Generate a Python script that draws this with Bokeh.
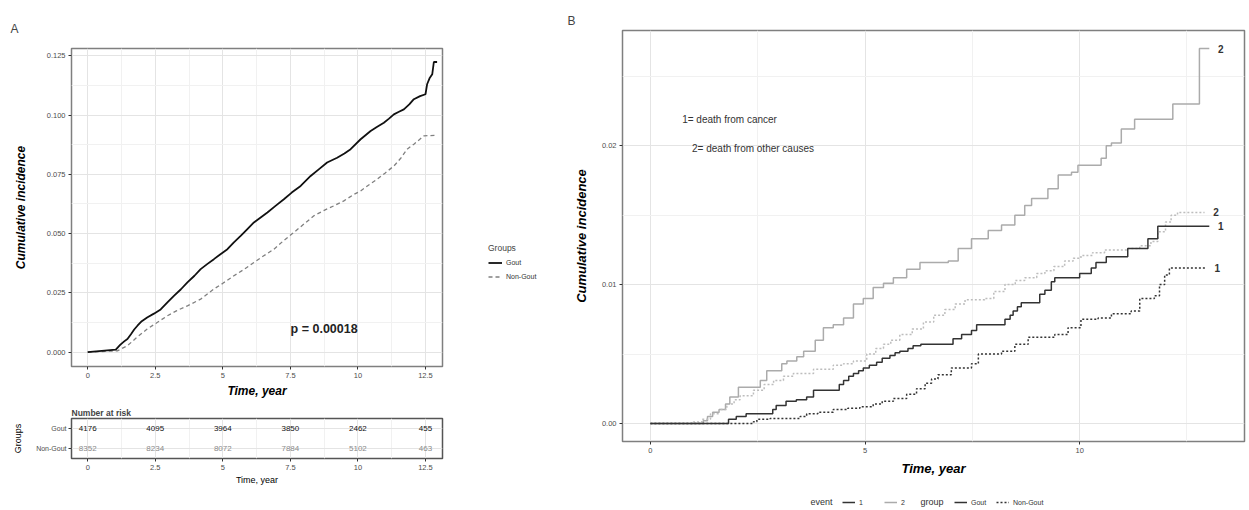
from bokeh.plotting import figure
from bokeh.models import (Range1d, FixedTicker, NumeralTickFormatter, PrintfTickFormatter,
                          Label, Legend, LegendItem, FactorRange)
from bokeh.layouts import row, column
from bokeh.embed import file_html
from bokeh.resources import INLINE
from bokeh.core.properties import value

FONT = "Liberation Sans"

# ---------------- Panel A data ----------------
a_gout_t = [0, 1.04, 1.2, 1.35, 1.47, 1.6, 1.72, 1.84, 2.0, 2.2, 2.45, 2.7, 2.95, 3.19, 3.45, 3.69,
            3.95, 4.18, 4.42, 4.67, 4.9, 5.17, 5.4, 5.66, 5.9, 6.15, 6.4, 6.65, 6.95, 7.26, 7.55,
            7.88, 8.25, 8.55, 8.86, 9.23, 9.5, 9.73, 10.1, 10.47, 10.7, 10.96, 11.15, 11.33, 11.5,
            11.7, 11.9, 12.07, 12.3, 12.5, 12.56, 12.65, 12.75, 12.81, 12.93]
a_gout_v = [0, 0.001, 0.003, 0.0045, 0.0055, 0.0075, 0.0095, 0.0111, 0.013, 0.0146, 0.0162, 0.018,
            0.021, 0.0237, 0.0265, 0.0294, 0.0322, 0.035, 0.0371, 0.0392, 0.0412, 0.0434, 0.0462,
            0.049, 0.0518, 0.0547, 0.0568, 0.0589, 0.0617, 0.0645, 0.0673, 0.0701, 0.0743, 0.0771,
            0.08, 0.082, 0.0838, 0.0856, 0.0898, 0.0933, 0.095, 0.0968, 0.0985, 0.1003, 0.1013,
            0.1024, 0.1045, 0.1067, 0.108, 0.1088, 0.113, 0.1155, 0.1172, 0.1224, 0.1224]
a_non_t = [0, 1.1, 1.47, 1.8, 2.2, 2.6, 2.95, 3.3, 3.69, 4.18, 4.67, 5.0, 5.41, 5.8, 6.15, 6.5,
           6.89, 7.25, 7.63, 8.0, 8.37, 8.75, 9.11, 9.48, 9.85, 10.1, 10.4, 10.71, 11.0, 11.33,
           11.6, 11.82, 12.07, 12.44, 12.87]
a_non_v = [0, 0.0005, 0.0027, 0.006, 0.0097, 0.0127, 0.0153, 0.0175, 0.0195, 0.0223, 0.0266,
           0.029, 0.0322, 0.035, 0.0378, 0.0405, 0.0434, 0.047, 0.0505, 0.054, 0.0575, 0.0598,
           0.0617, 0.0638, 0.0665, 0.068, 0.0705, 0.0729, 0.0755, 0.0785, 0.082, 0.0856, 0.0877,
           0.0912, 0.0915]

risk_times = [0, 2.5, 5, 7.5, 10, 12.5]
risk_gout = [4176, 4095, 3964, 3850, 2462, 455]
risk_non = [8352, 8234, 8072, 7884, 5102, 463]
groups = ["Non-Gout", "Gout"]

a_xticks = [0, 2.5, 5, 7.5, 10, 12.5]
a_xminor = [1.25, 3.75, 6.25, 8.75, 11.25]
a_yticks = [0, 0.025, 0.05, 0.075, 0.1, 0.125]
a_yminor = [0.0125, 0.0375, 0.0625, 0.0875, 0.1125]

# ---------------- Panel B data ----------------
b_g2_t = [0, 1.23, 1.33, 1.45, 1.6, 1.75, 1.85, 2.05, 2.56, 2.71, 3.06, 3.18, 3.41, 3.57, 3.84,
          4.03, 4.26, 4.5, 4.73, 4.96, 5.19, 5.43, 5.66, 5.97, 6.28, 6.94, 7.17, 7.48, 7.87, 8.18,
          8.49, 8.72, 8.88, 9.26, 9.5, 9.81, 9.96, 10.5, 10.62, 10.74, 10.97, 11.28, 12.17, 12.79,
          13.02]
b_g2_v = [0, 0.0002, 0.0005, 0.0008, 0.001, 0.0014, 0.0019, 0.0026, 0.0031, 0.0038, 0.0043,
          0.0045, 0.0048, 0.0052, 0.006, 0.0069, 0.0071, 0.0076, 0.0086, 0.009, 0.0098, 0.0101,
          0.0105, 0.0111, 0.0116, 0.0117, 0.0126, 0.0133, 0.0139, 0.0143, 0.015, 0.0157, 0.0162,
          0.0169, 0.0179, 0.0181, 0.0186, 0.0191, 0.02, 0.0202, 0.0212, 0.0219, 0.023, 0.027,
          0.027]
b_n2_t = [0, 1.0, 1.2, 1.4, 1.6, 1.78, 1.95, 2.09, 2.4, 2.65, 2.87, 3.1, 3.33, 3.8, 4.26, 4.5,
          4.73, 5.04, 5.25, 5.43, 5.6, 5.81, 6.1, 6.36, 6.6, 6.86, 7.1, 7.33, 7.79, 8.0, 8.26, 8.5,
          8.72, 9.0, 9.19, 9.4, 9.65, 9.85, 10.03, 10.3, 10.58, 11.12, 11.4, 11.66, 11.82, 12.0,
          12.13, 12.28, 12.91]
b_n2_v = [0, 0.0001, 0.0003, 0.0007, 0.001, 0.0014, 0.0017, 0.002, 0.0024, 0.0028, 0.0031,
          0.0034, 0.0036, 0.0039, 0.0042, 0.0043, 0.0045, 0.005, 0.0054, 0.0057, 0.006, 0.0064,
          0.0068, 0.0073, 0.0078, 0.0082, 0.0086, 0.0089, 0.009, 0.0095, 0.01, 0.0103, 0.0105,
          0.0108, 0.011, 0.0113, 0.0117, 0.0119, 0.0121, 0.0123, 0.0125, 0.0126, 0.0128, 0.0131,
          0.0138, 0.0145, 0.015, 0.0152, 0.0152]
b_g1_t = [0, 1.82, 2.0, 2.23, 2.85, 2.93, 3.16, 3.4, 3.64, 3.8, 4.4, 4.5, 4.62, 4.73, 4.85, 4.96,
          5.1, 5.27, 5.4, 5.58, 5.7, 5.81, 6.0, 6.12, 6.3, 7.05, 7.25, 7.48, 7.6, 8.26, 8.38, 8.45,
          8.55, 8.64, 9.07, 9.19, 9.34, 9.42, 10.0, 10.27, 10.38, 10.62, 11.12, 11.59, 11.82, 13.02]
b_g1_v = [0, 0.0003, 0.0005, 0.0007, 0.001, 0.0013, 0.0016, 0.0017, 0.0019, 0.0024, 0.0028,
          0.0031, 0.0034, 0.0036, 0.0038, 0.004, 0.0042, 0.0044, 0.0047, 0.0049, 0.0051, 0.0052,
          0.0054, 0.0056, 0.0057, 0.0061, 0.0064, 0.0067, 0.0071, 0.0075, 0.0078, 0.0081, 0.0084,
          0.0087, 0.0093, 0.0096, 0.0102, 0.0105, 0.0108, 0.0112, 0.0116, 0.012, 0.0126, 0.0133,
          0.0142, 0.0142]
b_n1_t = [0, 2.4, 2.48, 2.79, 3.49, 3.64, 3.9, 4.26, 4.6, 4.88, 5.19, 5.4, 5.66, 5.97, 6.2, 6.4,
          6.55, 6.7, 7.01, 7.48, 7.64, 8.18, 8.49, 8.8, 9.42, 9.73, 10.03, 10.43, 10.74, 11.2,
          11.4, 11.74, 11.86, 11.98, 12.09, 12.94]
b_n1_v = [0, 0.00012, 0.0003, 0.00036, 0.0005, 0.0007, 0.0008, 0.001, 0.0011, 0.0012, 0.0014,
          0.0016, 0.0018, 0.0021, 0.0025, 0.0029, 0.0032, 0.0035, 0.004, 0.0043, 0.005, 0.0052,
          0.0057, 0.0062, 0.0064, 0.0069, 0.0075, 0.0076, 0.0079, 0.0081, 0.009, 0.0092, 0.01,
          0.0107, 0.0112, 0.0112]

b_xticks = [0, 5, 10]
b_xminor = [2.5, 7.5, 12.5]
b_yticks = [0, 0.01, 0.02]
b_yminor = [0.005, 0.015, 0.025]

DARK = "#333333"
LIGHT = "#ababab"


def style(p, label_size="12px", label_style="bold italic"):
    p.outline_line_color = "#7f7f7f"
    p.outline_line_width = 1.5
    p.background_fill_color = "white"
    p.border_fill_color = "white"
    for ax in p.axis:
        ax.axis_line_color = None
        ax.major_tick_line_color = "#333333"
        ax.major_tick_out = 3
        ax.major_tick_in = 0
        ax.minor_tick_line_color = None
        ax.major_label_text_font = FONT
        ax.major_label_text_color = "#4d4d4d"
        ax.major_label_text_font_size = "7.5px"
        ax.major_label_standoff = 2
        ax.axis_label_text_font = FONT
        ax.axis_label_text_font_style = label_style
        ax.axis_label_text_font_size = label_size
        ax.axis_label_text_color = "black"
    for g in p.grid:
        g.grid_line_color = "#e4e4e4"
        g.grid_line_width = 1
        g.minor_grid_line_color = "#f1f1f1"
        g.minor_grid_line_width = 1


def set_title(p, text, offset, size="12px", style_="normal", standoff=10):
    p.title.text = text
    p.title.align = "left"
    p.title.offset = offset
    p.title.text_font = FONT
    p.title.text_font_size = size
    p.title.text_font_style = style_
    p.title.standoff = standoff


def blank(width, height, xr, yr, **borders):
    f = figure(width=width, height=height, x_range=xr, y_range=yr,
               toolbar_location=None, output_backend="svg", x_axis_location=None,
               y_axis_location=None, min_border=0, outline_line_color=None, **borders)
    f.grid.visible = False
    f.extra_x_ranges = {"hidden": Range1d(100, 101)}
    return f


# ---------------- Panel A ----------------
pA = figure(width=450, height=400, x_range=Range1d(-0.6, 13.13), y_range=Range1d(-0.0061, 0.1281),
            toolbar_location=None, output_backend="svg",
            min_border_left=71, min_border_right=8, min_border_top=48, min_border_bottom=33)
set_title(pA, "A", -61, standoff=26)
pA.xaxis.ticker = FixedTicker(ticks=a_xticks, minor_ticks=a_xminor)
pA.yaxis.ticker = FixedTicker(ticks=a_yticks, minor_ticks=a_yminor)
pA.xaxis.formatter = NumeralTickFormatter(format="0.[0]")
pA.yaxis.formatter = PrintfTickFormatter(format="%.3f")
pA.xaxis.axis_label = "Time, year"
pA.yaxis.axis_label = "Cumulative incidence"
style(pA)
pA.xaxis.axis_label_standoff = 3
pA.yaxis.axis_label_standoff = 16
pA.line(a_non_t, a_non_v, line_color="#808080", line_width=1.3, line_dash="4 3")
pA.line(a_gout_t, a_gout_v, line_color="#111111", line_width=1.8)
pA.add_layout(Label(x=8.75, y=0.0097, text="p = 0.00018", text_align="center",
                    text_baseline="middle", text_font=FONT, text_font_size="12.5px",
                    text_font_style="bold", text_color="#222222"))

# ---------------- Risk table ----------------
pT = figure(width=450, height=88, x_range=Range1d(-0.6, 13.13), y_range=FactorRange(*groups),
            toolbar_location=None, output_backend="svg",
            min_border_left=71, min_border_right=8, min_border_top=18, min_border_bottom=30)
set_title(pT, "Number at risk", 0, size="8.5px", style_="bold", standoff=2)
pT.xaxis.ticker = FixedTicker(ticks=a_xticks, minor_ticks=a_xminor)
pT.xaxis.formatter = NumeralTickFormatter(format="0.[0]")
pT.xaxis.axis_label = "Time, year"
pT.yaxis.axis_label = "Groups"
style(pT, label_size="9px", label_style="normal")
pT.yaxis.major_label_text_font_size = "7px"
pT.xaxis.axis_label_standoff = 2
pT.yaxis.axis_label_standoff = 10
pT.outline_line_color = "#555555"
pT.text(x=risk_times, y=["Gout"] * len(risk_times), text=[str(v) for v in risk_gout],
        text_align="center", text_baseline="middle", text_font=value(FONT),
        text_font_size="8px", text_color="#111111")
pT.text(x=risk_times, y=["Non-Gout"] * len(risk_times), text=[str(v) for v in risk_non],
        text_align="center", text_baseline="middle", text_font=value(FONT),
        text_font_size="8px", text_color="#8a8a8a")

# ---------------- Legend for A ----------------
pL = blank(110, 488, Range1d(0, 110), Range1d(0, 488))
rl1 = pL.line(a_gout_t, a_gout_v, line_color="#111111", line_width=1.8, x_range_name="hidden")
rl2 = pL.line(a_non_t, a_non_v, line_color="#808080", line_width=1.3, line_dash="4 3",
              x_range_name="hidden")
legA = Legend(items=[LegendItem(label="Gout", renderers=[rl1]),
                     LegendItem(label="Non-Gout", renderers=[rl2])],
              title="Groups", location=(38, 205), padding=2, margin=0, spacing=1,
              glyph_width=14, glyph_height=13, label_standoff=4,
              label_text_font=FONT, label_text_font_size="7px", label_text_color="#333333",
              title_text_font=FONT, title_text_font_size="8.5px", title_text_font_style="normal",
              title_standoff=3, border_line_color=None, background_fill_alpha=0)
pL.add_layout(legA)

# ---------------- Panel B ----------------
pB = figure(width=688, height=478, x_range=Range1d(-0.65, 13.84), y_range=Range1d(-0.0013, 0.0283),
            toolbar_location=None, output_backend="svg",
            min_border_left=62, min_border_right=4, min_border_top=30, min_border_bottom=33)
set_title(pB, "B", -55, standoff=6)
pB.xaxis.ticker = FixedTicker(ticks=b_xticks, minor_ticks=b_xminor)
pB.yaxis.ticker = FixedTicker(ticks=b_yticks, minor_ticks=b_yminor)
pB.yaxis.formatter = PrintfTickFormatter(format="%.2f")
pB.xaxis.axis_label = "Time, year"
pB.yaxis.axis_label = "Cumulative incidence"
style(pB, label_size="13px")
pB.xaxis.axis_label_standoff = 5
pB.yaxis.axis_label_standoff = 10

series = [(b_g2_t, b_g2_v, LIGHT, "solid", "2"),
          (b_n2_t, b_n2_v, "#bdbdbd", "2 2", "2"),
          (b_n1_t, b_n1_v, DARK, "2 2", "1"),
          (b_g1_t, b_g1_v, DARK, "solid", "1")]
for t, v, col, dash, lab in series:
    pB.step(t, v, mode="after", line_color=col, line_width=1.5, line_dash=dash)
pB.text(x=[s[0][-1] + 0.2 for s in series], y=[s[1][-1] for s in series],
        text=[s[4] for s in series], text_align="left", text_baseline="middle",
        text_font=value(FONT), text_font_size="10px", text_font_style="bold",
        text_color="#333333")
pB.add_layout(Label(x=0.74, y=0.0219, text="1= death from cancer", text_baseline="middle",
                    text_font=FONT, text_font_size="10px", text_color="#333333"))
pB.add_layout(Label(x=0.97, y=0.0198, text="2= death from other causes", text_baseline="middle",
                    text_font=FONT, text_font_size="10px", text_color="#333333"))

# ---------------- Legend for B (frame aligned with panel B frame: 622 px wide) ----------------
pLB = blank(688, 30, Range1d(0, 622), Range1d(0, 30), min_border_left=62, min_border_right=4)
e1 = pLB.line(b_g1_t, b_g1_v, line_color=DARK, line_width=1.5, x_range_name="hidden")
e2 = pLB.line(b_g2_t, b_g2_v, line_color=LIGHT, line_width=1.5, x_range_name="hidden")
g1 = pLB.line(b_g1_t, b_g1_v, line_color=DARK, line_width=1.5, x_range_name="hidden")
g2 = pLB.line(b_n1_t, b_n1_v, line_color=DARK, line_width=1.5, line_dash="2 2",
              x_range_name="hidden")
common = dict(orientation="horizontal", padding=1, margin=0, spacing=5,
              glyph_width=13, glyph_height=10, label_standoff=4,
              label_text_font=FONT, label_text_font_size="7px", label_text_color="#333333",
              border_line_color=None, background_fill_alpha=0)
legE = Legend(items=[LegendItem(label="1", renderers=[e1]), LegendItem(label="2", renderers=[e2])],
              location=(220, 1), **common)
legG = Legend(items=[LegendItem(label="Gout", renderers=[g1]),
                     LegendItem(label="Non-Gout", renderers=[g2])],
              location=(332, 1), **common)
pLB.add_layout(legE)
pLB.add_layout(legG)
pLB.add_layout(Label(x=188, y=7, text="event", text_baseline="middle", text_font=FONT,
                     text_font_size="9px", text_color="#333333"))
pLB.add_layout(Label(x=298, y=7, text="group", text_baseline="middle", text_font=FONT,
                     text_font_size="9px", text_color="#333333"))

layout = row(column(pA, pT), pL, column(pB, pLB))
open("out.html", "w").write(file_html(layout, INLINE))
